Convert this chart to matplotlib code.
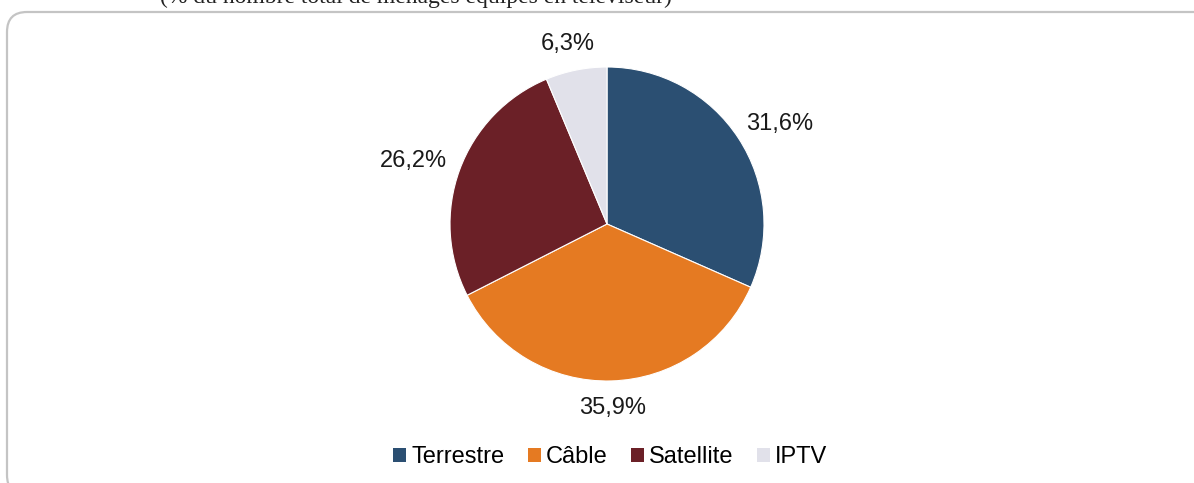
import numpy as np
import matplotlib.pyplot as plt
import matplotlib.transforms as mtransforms
from matplotlib.patches import FancyBboxPatch, Patch

plt.rcParams['font.family'] = ['Liberation Sans', 'DejaVu Sans']

# data
categories = ['Terrestre', 'Câble', 'Satellite', 'IPTV']
shares = [31.6, 35.9, 26.2, 6.3]
labels = ['31,6%', '35,9%', '26,2%', '6,3%']
colors = ['#2B4F72', '#E57A22', '#6B2027', '#E1E1EA']
subtitle = '(% du nombre total de ménages équipés en téléviseur)'

W, H = 1194, 483
fig = plt.figure(figsize=(W / 100, H / 100), dpi=100)

# rounded frame (pixel coordinates), runs off the right and bottom edges
frame = FancyBboxPatch((7, -12), 1215, H - 12 + 12,
                       boxstyle='round,pad=0,rounding_size=20',
                       transform=mtransforms.IdentityTransform(),
                       fc='none', ec='#C4C4C4', lw=1.6)
fig.patches.append(frame)

fig.text(416 / W, 1 + 3 / H, subtitle, family='Liberation Serif',
         fontsize=17, ha='center', va='center', color='#222222')

# pie
cx, cy, r = 607, 224, 157
ax = fig.add_axes([(cx - r) / W, (H - cy - r) / H, 2 * r / W, 2 * r / H])
wedges, _ = ax.pie(shares, colors=colors, startangle=90, counterclock=False,
                   radius=1, wedgeprops=dict(edgecolor='white', linewidth=0.8))
ax.set_xlim(-1, 1)
ax.set_ylim(-1, 1)
ax.axis('off')

fig.canvas.draw()
renderer = fig.canvas.get_renderer()
for w, lab in zip(wedges, labels):
    ang = np.deg2rad((w.theta1 + w.theta2) / 2)
    c, s = np.cos(ang), np.sin(ang)
    t = ax.text(1.1 * c, 1.1 * s, lab, fontsize=17, ha='center', va='center',
                color='#1a1a1a')
    bb = t.get_window_extent(renderer)
    t.set_transform(ax.transData + mtransforms.Affine2D().translate(
        bb.width / 2 * c, bb.height / 2 * s))

handles = [Patch(facecolor=col, edgecolor='none') for col in colors]
fig.legend(handles, categories, loc='center', ncol=4,
           bbox_to_anchor=(610 / W, 1 - 457 / H), frameon=False,
           fontsize=17, handlelength=0.55, handleheight=0.55,
           handletextpad=0.2, columnspacing=1.0)

fig.savefig('out.png', dpi=100)
